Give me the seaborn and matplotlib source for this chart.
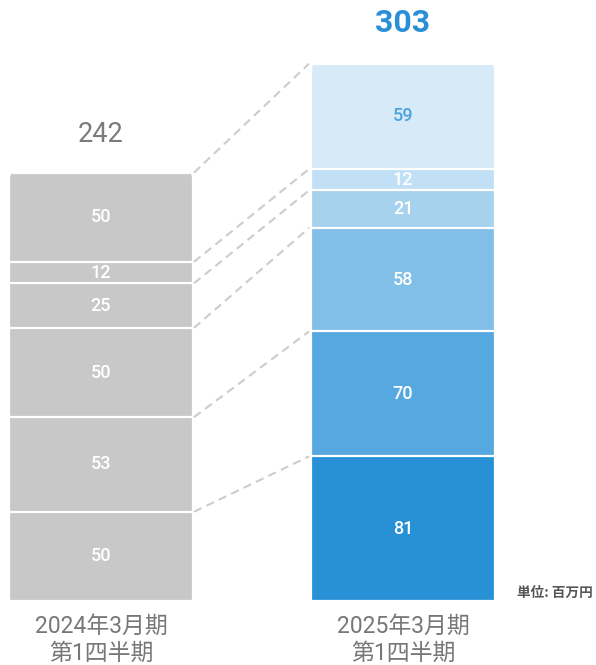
import matplotlib
matplotlib.use("Agg")
import matplotlib.pyplot as plt
from matplotlib.patches import FancyBboxPatch
import numpy as np
import pandas as pd
import seaborn as sns

# ---- data -------------------------------------------------------------
periods = ["2024年3月期\n第1四半期", "2025年3月期\n第1四半期"]
prev_segments = [50, 53, 50, 25, 12, 50]   # bottom -> top
curr_segments = [81, 70, 58, 21, 12, 59]   # bottom -> top
totals = [242, 303]

prev_color = "#c8c8c8"
curr_colors = ["#2891d6", "#55a8e0", "#81bee8", "#a7d2ee", "#c2e0f5", "#d7eaf8"]
curr_label_colors = ["white"] * 5 + ["#4ea2dd"]
total_colors = ["#7b7b7b", "#2a8fd6"]

# ---- layout -------------------------------------------------------------
sns.set_theme(style="white")
plt.rcParams["font.family"] = ["Roboto", "Noto Sans CJK JP", "DejaVu Sans"]

W, H = 596, 665
fig = plt.figure(figsize=(W / 100, H / 100), dpi=100)
ax = fig.add_axes([0, 0, 1, 1])

px_per_unit_x = 302.0
px_per_unit_y = 1.785
bar_w = 184 / px_per_unit_x

prev_cum = np.cumsum(prev_segments)
curr_cum = np.cumsum(curr_segments)

# stacked bars: draw cumulative tops from the highest level down
n = len(prev_segments)
for k in range(n - 1, -1, -1):
    df = pd.DataFrame({"period": periods, "top": [prev_cum[k], curr_cum[k]]})
    sns.barplot(
        data=df, x="period", y="top", hue="period",
        palette={periods[0]: prev_color, periods[1]: curr_colors[k]},
        width=bar_w, saturation=1, errorbar=None, legend=False,
        edgecolor="white", linewidth=1.6, ax=ax,
    )

# axes limits so the bars land on their places in the figure
x_left = 0 - 101 / px_per_unit_x
x_right = 1 + (W - 403) / px_per_unit_x
y_bottom = -(H - 601) / px_per_unit_y
y_top = 601 / px_per_unit_y
ax.set_xlim(x_left, x_right)
ax.set_ylim(y_bottom, y_top)
ax.axis("off")

# rounded top corners: clip each bar's patches to a rounded box
radius_x = 5 / px_per_unit_x
aspect = px_per_unit_x / px_per_unit_y
inner_w = 182 / px_per_unit_x
bar_patches = [p for p in ax.patches]
for i, tot in enumerate([prev_cum[-1], curr_cum[-1]]):
    clip = FancyBboxPatch(
        (i - inner_w / 2 + radius_x, -20 + radius_x * aspect),
        inner_w - 2 * radius_x, tot + 20 - 2 * radius_x * aspect,
        boxstyle=f"round,pad={radius_x},rounding_size={radius_x}",
        mutation_aspect=aspect, transform=ax.transData,
        facecolor="none", edgecolor="none",
    )
    ax.add_patch(clip)
    for p in bar_patches:
        cx = p.get_x() + p.get_width() / 2
        if abs(cx - i) < 0.1:
            p.set_clip_path(clip)

# segment value labels
for i, (segs, cum) in enumerate([(prev_segments, prev_cum), (curr_segments, curr_cum)]):
    for k, v in enumerate(segs):
        mid = cum[k] - v / 2
        col = "white" if i == 0 else curr_label_colors[k]
        ax.text(i, mid, f"{v}", ha="center", va="center", fontsize=13,
                color=col, fontweight="medium", family="Roboto")

# totals above bars
ax.text(0, (601 - 135) / px_per_unit_y, f"{totals[0]}", ha="center", va="center",
        fontsize=19.5, color=total_colors[0], family="Roboto")
ax.text(1, (601 - 23) / px_per_unit_y, f"{totals[1]}", ha="center", va="center",
        fontsize=23, color=total_colors[1], fontweight="bold", family="Roboto")

# dashed connectors between matching boundaries
x0 = 0 + inner_w / 2 + 2 / px_per_unit_x
x1 = 1 - inner_w / 2 - 3 / px_per_unit_x
for a, b in zip(prev_cum, curr_cum):
    ax.plot([x0, x1], [a, b], color="#cccccc", lw=1.5, ls=(0, (4, 2.6)),
            solid_capstyle="butt")

# period labels under bars (two lines each)
for i, lab in enumerate(periods):
    for line, ypx in zip(lab.split("\n"), [626, 653]):
        ax.text(i, (601 - ypx) / px_per_unit_y, line, ha="center", va="center",
                fontsize=16.5, color="#777777",
                family=["Roboto", "Noto Sans CJK JP"])

# unit note
ax.text(1 + (593 - 403) / px_per_unit_x, (601 - 593) / px_per_unit_y, "単位: 百万円",
        ha="right", va="center", fontsize=9.8, color="#555555", fontweight="bold",
        family=["Noto Sans CJK JP"])

fig.savefig("out.png", dpi=100, facecolor="white")
